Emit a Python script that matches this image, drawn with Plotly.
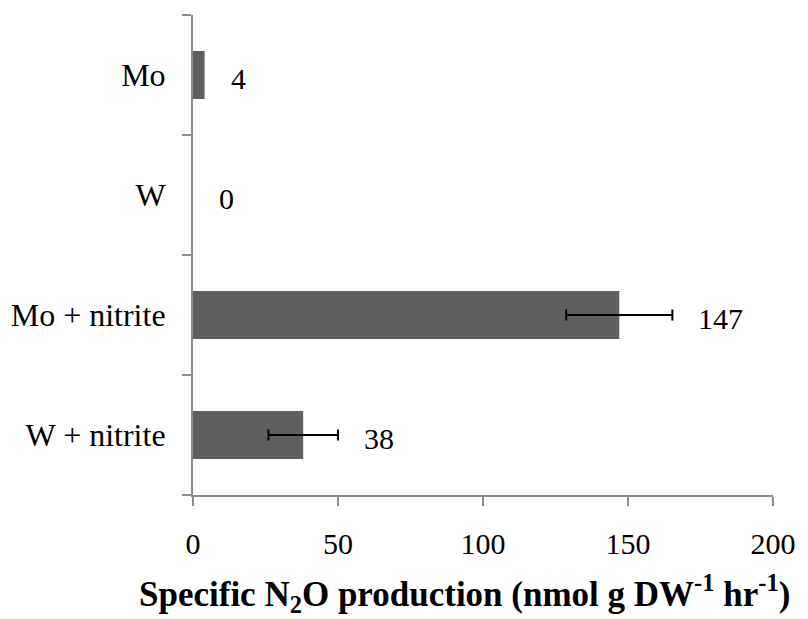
import plotly.graph_objects as go

categories = ["W + nitrite", "Mo + nitrite", "W", "Mo"]
values = [38, 147, 0, 4]
errors = [12, 18.3, None, None]
labels = ["38", "147", "0", "4"]
x_ticks = [0, 50, 100, 150, 200]

FONT = "Liberation Serif, Times New Roman, serif"
AXIS = "#8a8a8a"

fig = go.Figure()
fig.add_trace(go.Bar(
    y=categories, x=values, orientation="h",
    marker=dict(color="#5f5f5f", line=dict(width=0)),
    width=0.4, hoverinfo="skip",
))

# error bars only for rows that have them
eb_y = [c for c, e in zip(categories, errors) if e is not None]
eb_x = [v for v, e in zip(values, errors) if e is not None]
eb_e = [e for e in errors if e is not None]
fig.add_trace(go.Scatter(
    y=eb_y, x=eb_x, mode="markers", marker=dict(size=1, opacity=0),
    error_x=dict(type="data", array=eb_e, visible=True,
                 color="black", thickness=2, width=5.5),
    hoverinfo="skip",
))

for c, v, e, t in zip(categories, values, errors, labels):
    fig.add_annotation(x=v + (e or 0), y=c, text=t, showarrow=False,
                       xanchor="left", yanchor="middle", xshift=24, yshift=-3,
                       font=dict(family=FONT, size=30, color="black"))

fig.add_annotation(
    xref="paper", yref="paper", x=(464 - 193) / 580, y=-(593 - 495) / 480,
    text="<b>Specific N<sub>2</sub>O production (nmol g DW<sup>-1</sup> hr<sup>-1</sup>)</b>",
    showarrow=False, xanchor="center", yanchor="middle",
    font=dict(family=FONT, size=35, color="black"))

fig.update_layout(
    width=808, height=619,
    margin=dict(l=193, r=35, t=15, b=124, pad=0),
    plot_bgcolor="white", paper_bgcolor="white",
    showlegend=False,
    font=dict(family=FONT, size=30, color="black"),
    xaxis=dict(range=[0, 200], tickvals=x_ticks, ticktext=[str(v) for v in x_ticks],
               showgrid=False, zeroline=False, showline=True, linecolor=AXIS, linewidth=2,
               ticks="outside", ticklen=9, tickcolor=AXIS, tickwidth=2,
               tickfont=dict(family=FONT, size=30, color="black"), ticklabelstandoff=12),
    yaxis=dict(categoryorder="array", categoryarray=categories, range=[-0.5, 3.5],
               showgrid=False, zeroline=False, showline=True, linecolor=AXIS, linewidth=2,
               ticks="outside", ticklen=9, tickcolor=AXIS, tickwidth=2, tickson="boundaries",
               tickfont=dict(family=FONT, size=32, color="black"), ticklabelstandoff=19),
)

fig.write_html("out.html")
